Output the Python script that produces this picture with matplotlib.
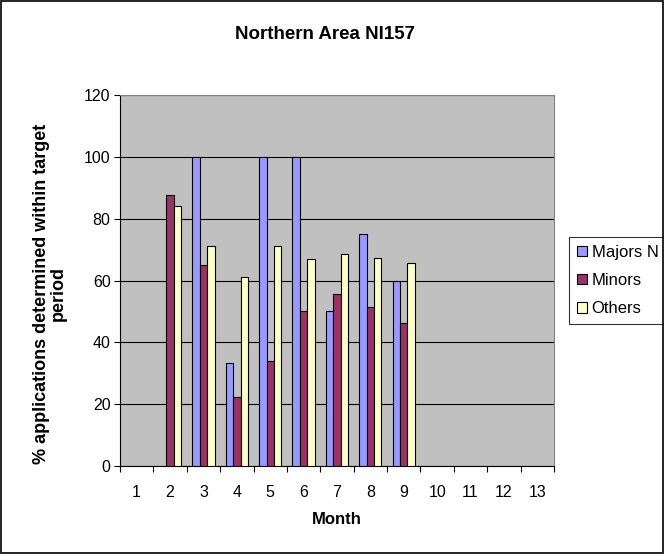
import matplotlib
matplotlib.use("Agg")
import matplotlib.pyplot as plt
import numpy as np

plt.rcParams["font.family"] = ["Liberation Sans", "DejaVu Sans"]

months = list(range(1, 14))
majors = [None, None, 100, 33.3, 100, 100, 50, 75, 60, None, None, None, None]
minors = [None, 87.5, 65, 22.4, 34, 50, 55.6, 51.3, 46.4, None, None, None, None]
others = [None, 84, 71.2, 61, 71.2, 66.8, 68.6, 67.2, 65.6, None, None, None, None]

series = [
    ("Majors N", majors, "#9999FF"),
    ("Minors", minors, "#993366"),
    ("Others", others, "#FFFFCC"),
]

fig = plt.figure(figsize=(6.64, 5.54), dpi=100)
ax = fig.add_axes([0.1807, 0.1588, 0.6536, 0.6697])
ax.set_facecolor("#C0C0C0")

# three bars per month, with a gap of 1.5 bar widths between groups
width = 1 / 4.5
x = np.arange(len(months))
for i, (name, vals, color) in enumerate(series):
    h = [np.nan if v is None else v for v in vals]
    ax.bar(x + (i - 1) * width, h, width, color=color, edgecolor="black",
           linewidth=0.8, label=name, zorder=3)

ax.set_xlim(-0.5, len(months) - 0.5)
ax.set_ylim(0, 120)
ax.set_yticks(range(0, 121, 20))
ax.yaxis.grid(True, color="black", linewidth=0.8, zorder=1)

# tick marks sit on the category boundaries, labels in the middle
ax.set_xticks(np.arange(len(months) + 1) - 0.5)
ax.set_xticklabels([])
ax.set_xticks(x, minor=True)
ax.set_xticklabels([str(m) for m in months], minor=True)
ax.tick_params(axis="x", which="minor", length=0, pad=13.5, labelsize=11.5)
ax.tick_params(axis="x", which="major", length=4.3, direction="out", color="black")
ax.tick_params(axis="y", length=4.3, direction="out", labelsize=11.5, pad=2.5)

for side in ("top", "right"):
    ax.spines[side].set_color("#808080")
for side in ("left", "bottom"):
    ax.spines[side].set_color("black")

ax.set_xlabel("Month", fontsize=12, fontweight="bold", labelpad=9)
ax.set_ylabel("% applications determined within target\nperiod", fontsize=13,
              fontweight="bold", linespacing=1.0)
ax.yaxis.set_label_coords(-0.122, 0.465)
fig.text(0.49, 0.937, "Northern Area NI157", ha="center", va="center",
         fontsize=13.5, fontweight="bold")

leg = ax.legend(loc="center left", bbox_to_anchor=(1.035, 0.5), fontsize=12,
                frameon=True, fancybox=False, edgecolor="black",
                handlelength=0.6, handleheight=0.6, handletextpad=0.3,
                borderpad=0.45, labelspacing=0.8, borderaxespad=0)
leg.get_frame().set_linewidth(0.8)

fig.patches.append(plt.Rectangle((0.001, 0.001), 0.998, 0.997, transform=fig.transFigure,
                                 fill=False, edgecolor="black", linewidth=1.2))

fig.savefig("out.png", dpi=100)
